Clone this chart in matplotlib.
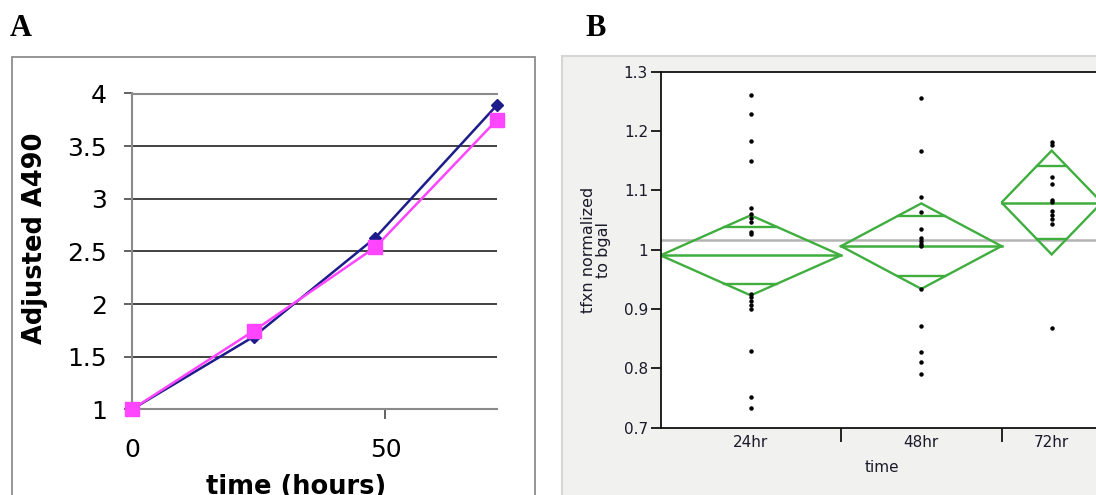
import numpy as np
import matplotlib
matplotlib.use('Agg')
import matplotlib.pyplot as plt
from matplotlib.patches import Rectangle, Polygon

# ---- panel A data: growth curve ----
hours = [0, 24, 48, 72]
a490_blue = [1.0, 1.69, 2.63, 3.89]
a490_pink = [1.0, 1.745, 2.54, 3.75]
a_yticks = [1, 1.5, 2, 2.5, 3, 3.5, 4]
a_ylabels = ['1', '1.5', '2', '2.5', '3', '3.5', '4']

# ---- panel B data: transfection normalised to bgal ----
groups = ['24hr', '48hr', '72hr']
group_n = [18, 16, 10]
tfxn_24 = [1.260, 1.228, 1.183, 1.150, 1.071, 1.061, 1.054, 1.046, 1.030, 1.026,
           0.926, 0.920, 0.913, 0.906, 0.900, 0.829, 0.751, 0.733]
tfxn_48 = [1.256, 1.166, 1.089, 1.063, 1.035, 1.020, 1.015, 1.010, 1.006,
           0.934, 0.871, 0.827, 0.810, 0.791]
tfxn_72 = [1.181, 1.176, 1.122, 1.111, 1.084, 1.080, 1.066, 1.058, 1.051, 1.044, 0.868]
group_means = [0.9905, 1.006, 1.0795]
ci_half = [0.0675, 0.072, 0.0875]
grand_mean = 1.016
b_yticks = [0.7, 0.8, 0.9, 1.0, 1.1, 1.2, 1.3]
b_ylabels = ['0.7', '0.8', '0.9', '1', '1.1', '1.2', '1.3']

W, H = 1096, 495
fig = plt.figure(figsize=(W / 100, H / 100), dpi=100)


def fx(px):
    return px / W


def fy(py):
    return 1 - py / H


# panel frames (behind the axes)
fig.patches.append(Rectangle((fx(11.5), fy(520)), fx(535 - 11.5), (520 - 56.5) / H,
                             transform=fig.transFigure, facecolor='white',
                             edgecolor='#8c8c8c', lw=1.3, zorder=-2))
fig.patches.append(Rectangle((fx(562), fy(520)), fx(600), (520 - 56) / H,
                             transform=fig.transFigure, facecolor='#f1f1ef',
                             edgecolor='#d6d6d6', lw=1.5, zorder=-2))

fig.text(fx(10), fy(36), 'A', fontsize=22, fontweight='bold', family='Liberation Serif')
fig.text(fx(585), fy(36), 'B', fontsize=22, fontweight='bold', family='Liberation Serif')

# ---------------- panel A ----------------
axA = fig.add_axes([fx(132), fy(409.3), fx(497 - 132), (409.3 - 93.5) / H])
axA.set_facecolor('white')
axA.plot(hours, a490_blue, color='#1c1c8a', lw=1.8, marker='D', ms=6.5,
         clip_on=False, zorder=3)
axA.plot(hours, a490_pink, color='#ff45ff', lw=1.8, marker='s', ms=10,
         clip_on=False, zorder=4)
axA.set_xlim(0, 72)
axA.set_ylim(1, 4)
axA.set_yticks(a_yticks)
axA.set_yticklabels(a_ylabels)
axA.set_xticks([0, 50])
axA.set_xticklabels(['0', '50'])
axA.grid(axis='y', color='#333333', lw=1.3)
axA.spines['right'].set_visible(False)
for s in ['left', 'top', 'bottom']:
    axA.spines[s].set_color('#8a8a8a')
    axA.spines[s].set_linewidth(1.5)
axA.tick_params(axis='y', direction='out', length=6, width=1.3, color='#555555',
                pad=12, labelsize=18)
axA.tick_params(axis='x', direction='out', length=7, width=1.3, color='#555555',
                pad=14, labelsize=18)
axA.xaxis.get_major_ticks()[0].tick1line.set_visible(False)
fig.text(fx(35), fy(238), 'Adjusted A490', rotation=90, fontsize=18.5,
         fontweight='bold', ha='center', va='center')
fig.text(fx(296.5), fy(494), 'time (hours)', fontsize=18.5, fontweight='bold',
         ha='center', va='baseline')

# ---------------- panel B ----------------
px_per_n = 10.03
axB = fig.add_axes([fx(660.5), fy(427.7), fx(sum(group_n) * px_per_n),
                    (427.7 - 71.7) / H])
axB.set_facecolor('white')
edges = np.concatenate([[0], np.cumsum(group_n)])
centers = (edges[:-1] + edges[1:]) / 2
green = '#3fae3f'
axB.axhline(grand_mean, color='#b4b4b4', lw=1.8, zorder=1)
for i, vals in enumerate([tfxn_24, tfxn_48, tfxn_72]):
    x0, x1, xc = edges[i], edges[i + 1], centers[i]
    m, h = group_means[i], ci_half[i]
    axB.add_patch(Polygon([(x0, m), (xc, m + h), (x1, m), (xc, m - h)], closed=True,
                          fill=False, edgecolor=green, lw=1.7, zorder=2))
    axB.plot([x0, x1], [m, m], color=green, lw=1.8, zorder=2)
    # overlap marks at mean +/- ci/sqrt(2)
    k = 1 / np.sqrt(2)
    hw = (x1 - x0) / 2 * (1 - k)
    for sgn in (1, -1):
        axB.plot([xc - hw, xc + hw], [m + sgn * h * k] * 2, color=green, lw=1.7, zorder=2)
    axB.plot([xc] * len(vals), vals, ls='none', marker='o', ms=2.2, color='black',
             zorder=3)

axB.set_xlim(edges[0], edges[-1])
axB.set_ylim(0.7, 1.3)
axB.set_yticks(b_yticks)
axB.set_yticklabels(b_ylabels)
axB.set_xticks(edges[1:-1])
axB.set_xticklabels([])
axB.set_xticks(centers, minor=True)
axB.set_xticklabels(groups, minor=True)
axB.spines['right'].set_visible(False)
for s in ['left', 'top', 'bottom']:
    axB.spines[s].set_color('#111111')
    axB.spines[s].set_linewidth(1.3)
axB.tick_params(axis='y', direction='out', length=7, width=1.2, pad=2,
                labelsize=11, labelcolor='#1a1a2a')
axB.tick_params(axis='x', which='major', direction='out', length=10, width=1.2)
axB.tick_params(axis='x', which='minor', length=0, pad=5, labelsize=11,
                labelcolor='#1a1a2a')
fig.text(fx(596), fy(250), 'tfxn normalized\nto bgal', rotation=90, fontsize=11.5,
         ha='center', va='center', color='#1a1a2a', linespacing=1.0)
fig.text(fx(882), fy(467), 'time', fontsize=11, ha='center', va='center',
         color='#1a1a2a')

fig.savefig('out.png', dpi=100)
